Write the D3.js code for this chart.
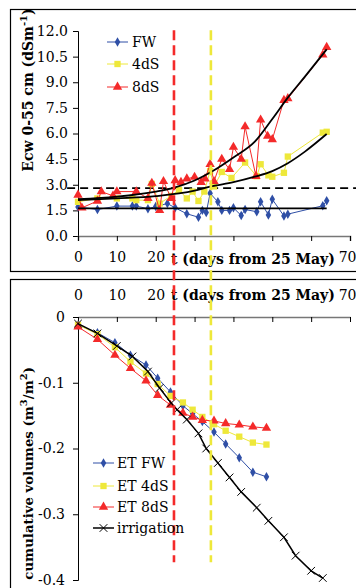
<!DOCTYPE html>
<html>
<head>
<meta charset="utf-8">
<script src="https://cdn.jsdelivr.net/npm/d3@7"></script>
<style>
  body { margin: 0; background: #fff; }
  svg { display: block; }
  text { font-family: "DejaVu Serif", serif; }
</style>
</head>
<body>
<div id="chart"></div>
<script>
// ---- data ----
// top panel: Ecw 0-55 cm (dS/m)
const tFW = [0, 5, 10, 14, 15, 18, 20, 23, 25, 28, 31, 32, 33, 34, 36, 37, 39, 40, 42, 43, 46, 47, 49, 50, 53, 54, 63, 64];
const ecFW = [1.7, 1.55, 1.75, 1.75, 1.75, 1.6, 1.72, 1.9, 1.65, 1.3, 1.1, 1.5, 1.37, 2.5, 2.0, 1.5, 1.5, 1.65, 1.2, 1.55, 1.42, 2.0, 1.23, 2.15, 1.17, 1.28, 1.77, 2.06];
const t4dS = [0, 5, 10, 14, 15, 18, 19, 21, 24, 26, 28, 29.5, 31, 32.5, 34, 35, 37, 39.5, 43, 46, 47, 49, 50, 53, 54, 63, 64];
const ec4dS = [2.0, 2.2, 2.2, 2.2, 2.1, 2.1, 3.05, 1.9, 2.35, 2.7, 2.2, 2.6, 2.05, 2.6, 3.8, 2.9, 3.75, 3.4, 4.3, 3.5, 4.2, 3.55, 3.47, 3.7, 4.65, 6.05, 6.1];
const t8dS = [0, 1, 5, 6, 9, 10, 15, 18, 19, 21, 22, 24, 25, 26.5, 28, 30, 31.7, 32.7, 34, 35, 37, 39, 40, 42, 43, 45.8, 47, 48.8, 50, 53, 54, 63, 64];
const ec8dS = [2.4, 1.65, 2.05, 2.6, 2.35, 2.6, 2.6, 2.2, 3.1, 1.5, 3.2, 2.2, 3.25, 3.15, 3.35, 3.45, 3.15, 3.35, 4.2, 3.2, 4.5, 3.9, 5.2, 4.5, 6.4, 3.5, 6.8, 5.85, 5.65, 7.95, 8.05, 10.6, 11.05];

// fitted trend lines (black), read at a few days
const trendFW_t = [0, 64];
const trendFW_v = [1.62, 1.62];
const trend4_t = [0, 10, 20, 30, 34, 40, 45.5, 50, 54, 58.4, 64];
const trend4_v = [2.1, 2.2, 2.33, 2.65, 2.89, 3.15, 3.47, 3.8, 4.26, 4.94, 5.97];
const trend8_t = [0, 10, 20, 25, 30, 35, 40, 45.5, 50, 54, 58.4, 64];
const trend8_v = [2.15, 2.3, 2.6, 2.85, 3.25, 3.85, 4.6, 5.52, 6.85, 8.1, 9.33, 10.93];
const ecThreshold = 2.8;

// bottom panel: cumulative volumes (m3/m2)
const tET = [0, 5, 9.5, 13.5, 17.5, 20.5, 23.8, 27, 29.5, 32, 35, 38, 41.5, 45, 48.5];
const etFW = [-0.012, -0.024, -0.039, -0.058, -0.073, -0.093, -0.114, -0.135, -0.147, -0.159, -0.175, -0.193, -0.214, -0.236, -0.243];
const et4dS = [-0.012, -0.026, -0.046, -0.068, -0.086, -0.102, -0.12, -0.13, -0.141, -0.152, -0.163, -0.173, -0.182, -0.191, -0.194];
const et8dS = [-0.015, -0.034, -0.058, -0.078, -0.097, -0.119, -0.134, -0.146, -0.152, -0.157, -0.158, -0.162, -0.164, -0.167, -0.169];
const tIrr = [0, 5, 10, 14, 18, 21, 24, 25.5, 28, 31, 33, 36, 39, 42, 46, 49, 53, 56, 60, 63];
const irr = [-0.01, -0.025, -0.044, -0.06, -0.083, -0.108, -0.131, -0.141, -0.156, -0.177, -0.2, -0.222, -0.244, -0.266, -0.29, -0.31, -0.335, -0.363, -0.386, -0.397];

// events (days)
const redEventT = 24.7;
const yellowEventT = 34.2;

const topTicks = [0, 1.5, 3, 4.5, 6, 7.5, 9, 10.5, 12];
const botTicks = [0, -0.1, -0.2, -0.3, -0.4];
const xTicks = [0, 10, 20, 30, 40, 50, 60, 70];
const xLabelled = [0, 10, 20, 70]; // the middle ones sit under the axis title

const cBlue = '#2f4fa6', cYellow = '#eee83a', cRed = '#f42a2a';

const W = 356, H = 588;
const svg = d3.select('#chart').append('svg')
    .attr('width', W)
    .attr('height', H);

// panel frames
svg.append('rect').attr('x', 10.5).attr('y', 9.5).attr('width', 360).attr('height', 262)
    .attr('fill', 'none').attr('stroke', '#000').attr('stroke-width', 1.2);
svg.append('rect').attr('x', 10.5).attr('y', 279.5).attr('width', 360).attr('height', 330)
    .attr('fill', 'none').attr('stroke', '#000').attr('stroke-width', 1.2);

const x = d3.scaleLinear().domain([0, 70]).range([78, 350]);
const yTop = d3.scaleLinear().domain([0, 12]).range([236, 31]);
const yBot = d3.scaleLinear().domain([-0.4, 0]).range([580, 317]);

const zip = (ts, vs) => ts.map((t, i) => ({ t: t, v: vs[i] }));
const xFmt = d => xLabelled.includes(d) ? String(d) : '';
const hyph = d => d === 0 ? '0' : '-' + Math.abs(d).toFixed(1);

// ---- top panel axes ----
svg.append('g').attr('transform', 'translate(78,0)')
    .call(d3.axisLeft(yTop).tickValues(topTicks).tickFormat(d => d.toFixed(1)).tickSizeOuter(0).tickSize(5).tickPadding(5));
const gxTop = svg.append('g').attr('transform', 'translate(0,236)')
    .call(d3.axisBottom(x).tickValues(xTicks).tickFormat(xFmt).tickSizeOuter(0).tickSize(5).tickPadding(11));
gxTop.select('.domain').attr('stroke', '#777').attr('stroke-width', 1.6);

// ---- bottom panel axes ----
svg.append('g').attr('transform', 'translate(78,0)')
    .call(d3.axisLeft(yBot).tickValues(botTicks).tickFormat(hyph).tickSizeOuter(0).tickSize(5).tickPadding(8));
const gxBot = svg.append('g').attr('transform', 'translate(0,317)')
    .call(d3.axisTop(x).tickValues(xTicks).tickFormat(xFmt).tickSizeOuter(0).tickSizeInner(-5).tickPadding(17));
gxBot.select('.domain').attr('stroke', '#777').attr('stroke-width', 1.6);

svg.selectAll('.tick text').style('font-family', '"DejaVu Serif", serif').style('font-size', '14px');
svg.selectAll('.tick line').attr('stroke', '#000');
// last label hugs the right edge
[gxTop, gxBot].forEach(g => g.selectAll('.tick text').filter(d => d === 70)
    .attr('text-anchor', 'end').attr('dx', 6));

// x titles
[264, 300].forEach(yb => {
    svg.append('text')
        .attr('x', 171).attr('y', yb)
        .style('font-size', '14px').style('font-weight', 'bold')
        .text('t (days from 25 May)');
});

// y titles
svg.append('text')
    .attr('transform', 'translate(33,90) rotate(-90)')
    .attr('text-anchor', 'middle')
    .style('font-size', '14px').style('font-weight', 'bold')
    .html('Ecw 0-55 cm (dSm<tspan dy="-6" font-size="10px">-1</tspan><tspan dy="6">)</tspan>');
svg.append('text')
    .attr('transform', 'translate(33,367) rotate(-90)')
    .attr('text-anchor', 'end')
    .style('font-size', '13.3px').style('font-weight', 'bold')
    .html('cumulative volumes (m<tspan dy="-6" font-size="10px">3</tspan><tspan dy="6">/m</tspan><tspan dy="-6" font-size="10px">2</tspan><tspan dy="6">)</tspan>');

// ---- marks ----
const line = (yS) => d3.line().x(d => x(d.t)).y(d => yS(d.v));
const smooth = (yS) => d3.line().x(d => x(d.t)).y(d => yS(d.v)).curve(d3.curveMonotoneX);

const symTimes = d3.symbolTimes || d3.symbolCross;
const markers = {
    blue: { type: d3.symbolDiamond, size: 26, fill: cBlue, stroke: 'none' },
    yellow: { type: d3.symbolSquare, size: 40, fill: cYellow, stroke: 'none' },
    red: { type: d3.symbolTriangle, size: 38, fill: cRed, stroke: 'none' },
    black: { type: symTimes, size: 40, fill: 'none', stroke: '#000' }
};

function series(data, yS, color, mk, lw) {
    svg.append('path').datum(data)
        .attr('fill', 'none').attr('stroke', color).attr('stroke-width', lw || 1)
        .attr('d', line(yS));
    const m = markers[mk];
    svg.append('g').selectAll('path').data(data).enter().append('path')
        .attr('transform', d => `translate(${x(d.t)},${yS(d.v)})`)
        .attr('d', d3.symbol().type(m.type).size(m.size))
        .attr('fill', m.fill).attr('stroke', m.stroke).attr('stroke-width', 1);
}

// top threshold dashed line
svg.append('line')
    .attr('x1', x(-2.8)).attr('x2', W).attr('y1', yTop(ecThreshold)).attr('y2', yTop(ecThreshold))
    .attr('stroke', '#000').attr('stroke-width', 1.8).attr('stroke-dasharray', '8,5');

series(zip(tFW, ecFW), yTop, cBlue, 'blue');
series(zip(t4dS, ec4dS), yTop, cYellow, 'yellow');
series(zip(t8dS, ec8dS), yTop, cRed, 'red');

[[trendFW_t, trendFW_v], [trend4_t, trend4_v], [trend8_t, trend8_v]].forEach(([ts, vs]) => {
    svg.append('path').datum(zip(ts, vs))
        .attr('fill', 'none').attr('stroke', '#000').attr('stroke-width', 1.8)
        .attr('d', smooth(yTop));
});

// bottom series
series(zip(tET, etFW), yBot, cBlue, 'blue');
series(zip(tET, et4dS), yBot, cYellow, 'yellow');
series(zip(tET, et8dS), yBot, cRed, 'red');
series(zip(tIrr, irr), yBot, '#000', 'black', 1.5);

// event lines across both panels
[[redEventT, cRed], [yellowEventT, cYellow]].forEach(([t, c]) => {
    svg.append('line')
        .attr('x1', x(t)).attr('x2', x(t))
        .attr('y1', yTop(12.05)).attr('y2', yBot(-0.373))
        .attr('stroke', c).attr('stroke-width', 2.6).attr('stroke-dasharray', '10,5');
});

// ---- legends ----
function legend(items, x0, ys, textX) {
    items.forEach((it, i) => {
        const g = svg.append('g');
        g.append('line').attr('x1', x0).attr('x2', x0 + 21).attr('y1', ys[i]).attr('y2', ys[i])
            .attr('stroke', it.color).attr('stroke-width', it.mk === 'black' ? 1.5 : 1);
        const m = markers[it.mk];
        g.append('path').attr('transform', `translate(${x0 + 10.5},${ys[i]})`)
            .attr('d', d3.symbol().type(m.type).size(m.size))
            .attr('fill', m.fill).attr('stroke', m.stroke);
        g.append('text').attr('x', textX).attr('y', ys[i] + 5)
            .style('font-size', '14px').text(it.label);
    });
}
legend([
    { label: 'FW', color: cBlue, mk: 'blue' },
    { label: '4dS', color: cYellow, mk: 'yellow' },
    { label: '8dS', color: cRed, mk: 'red' }
], 107, [42, 64, 87], 132);
legend([
    { label: 'ET FW', color: cBlue, mk: 'blue' },
    { label: 'ET 4dS', color: cYellow, mk: 'yellow' },
    { label: 'ET 8dS', color: cRed, mk: 'red' },
    { label: 'irrigation', color: '#000', mk: 'black' }
], 93, [463, 486, 507, 528], 117);
</script>
</body>
</html>
